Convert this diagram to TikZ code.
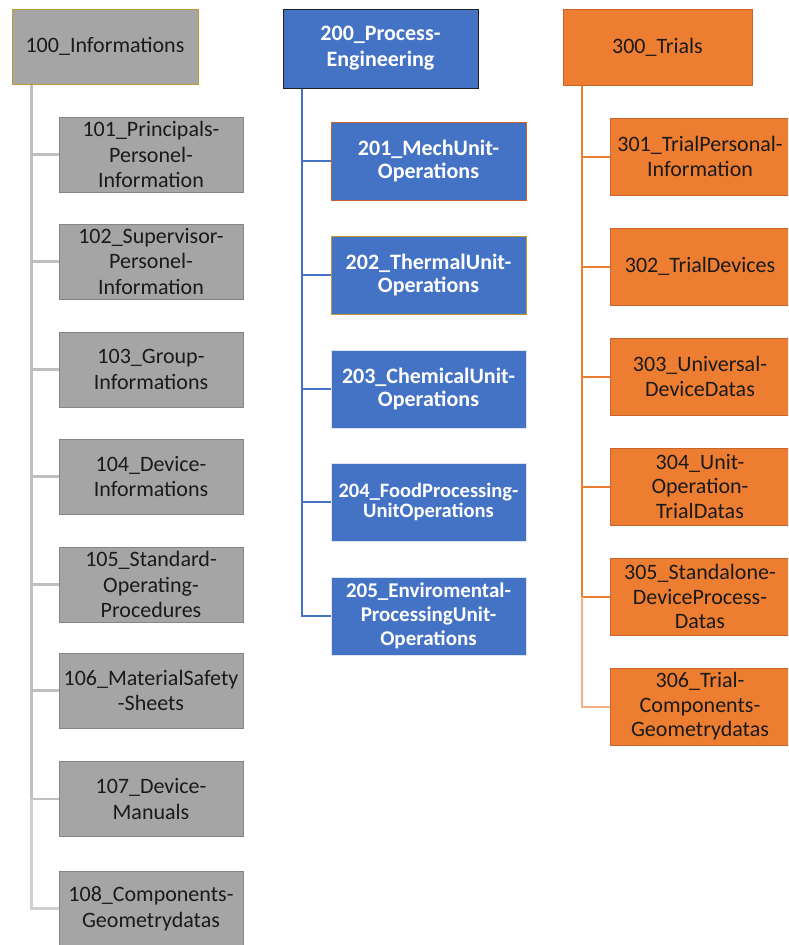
\documentclass[tikz,border=0pt]{standalone}
\usepackage{fontspec}
\setmainfont{Carlito}
\definecolor{grayfill}{HTML}{A5A5A5}
\definecolor{grayedge}{HTML}{858585}
\definecolor{grayline}{HTML}{BFBFBF}
\definecolor{graylight}{HTML}{CFCFCF}
\definecolor{gold}{HTML}{C09A2E}
\definecolor{bluefill}{HTML}{4472C4}
\definecolor{blueline}{HTML}{4472C4}
\definecolor{blueedge}{HTML}{DCE4F2}
\definecolor{darkedge}{HTML}{202020}
\definecolor{orangefill}{HTML}{ED7D31}
\definecolor{orangeedge}{HTML}{C9632A}
\definecolor{orangeline}{HTML}{ED7D31}
\definecolor{orangelight}{HTML}{F4B183}
\definecolor{txt}{HTML}{1A1A1A}
\tikzset{
  base/.style={rectangle, inner sep=0pt, align=center, line width=1pt},
  graybox/.style={base, fill=grayfill, draw=grayedge, minimum width=184pt, minimum height=75pt, text=txt, font=\fontsize{22}{25.5}\selectfont},
  bluebox/.style={base, fill=bluefill, draw=blueedge, minimum width=195pt, minimum height=78pt, text=white, font=\fontsize{22}{23.5}\selectfont\bfseries},
  orangebox/.style={base, fill=orangefill, draw=orangeedge, minimum width=180pt, minimum height=77pt, text=txt, font=\fontsize{22}{24.5}\selectfont},
  grayconn/.style={draw=grayline, line width=2.2pt},
  blueconn/.style={draw=blueline, line width=2pt},
  orangeconn/.style={draw=orangeline, line width=2pt},
}
\begin{document}
\begin{tikzpicture}[x=1pt,y=-1pt]
\useasboundingbox (0,0) rectangle (788,945);
\begin{scope}
\clip (0,0) rectangle (788,945);
% ---------- column 1 ----------
\node[graybox, draw=gold, minimum width=186pt, minimum height=75pt] (h100) at (105,46.5) {100\_Informations};
\coordinate (t100) at ([xshift=20pt]h100.south west);
\node[graybox] (c101) at (151,154.5) {101\_Principals-\\Personel-\\Information};
\node[graybox] (c102) at (151,261.5) {102\_Supervisor-\\Personel-\\Information};
\node[graybox] (c103) at (151,369.5) {103\_Group-\\Informations};
\node[graybox] (c104) at (151,476.5) {104\_Device-\\Informations};
\node[graybox] (c105) at (151,584.5) {105\_Standard-\\Operating-\\Procedures};
\node[graybox] (c106) at (151,690.5) {106\_MaterialSafety\\-Sheets};
\node[graybox] (c107) at (151,799) {107\_Device-\\Manuals};
\node[graybox] (c108) at (151,908.5) {108\_Components-\\Geometrydatas};
% ---------- column 2 ----------
\node[bluebox, draw=darkedge, minimum height=79pt, font=\fontsize{22}{26}\selectfont\bfseries] (h200) at (380.5,48.5) {200\_Process-\\Engineering};
\coordinate (t200) at ([xshift=19pt]h200.south west);
\node[bluebox, draw=orangeedge] (c201) at (428.5,161) {201\_MechUnit-\\Operations};
\node[bluebox, draw=gold] (c202) at (428.5,275) {202\_ThermalUnit-\\Operations};
\node[bluebox] (c203) at (428.5,389) {203\_ChemicalUnit-\\Operations};
\node[bluebox, font=\fontsize{20.5}{20.5}\selectfont\bfseries] (c204) at (428.5,502) {204\_FoodProcessing-\\UnitOperations};
\node[bluebox, font=\fontsize{21}{24}\selectfont\bfseries] (c205) at (428.5,616) {205\_Enviromental-\\ProcessingUnit-\\Operations};
% ---------- column 3 ----------
\node[orangebox, minimum width=189pt, minimum height=76pt] (h300) at (657.5,47) {300\_Trials};
\coordinate (t300) at ([xshift=19pt]h300.south west);
\node[orangebox] (c301) at (700,156.5) {301\_TrialPersonal-\\Information};
\node[orangebox] (c302) at (700,266.5) {302\_TrialDevices};
\node[orangebox] (c303) at (700,376.5) {303\_Universal-\\DeviceDatas};
\node[orangebox] (c304) at (700,486.5) {304\_Unit-\\Operation-\\TrialDatas};
\node[orangebox] (c305) at (700,596.5) {305\_Standalone-\\DeviceProcess-\\Datas};
\node[orangebox] (c306) at (700,706.5) {306\_Trial-\\Components-\\Geometrydatas};
\end{scope}
% ---------- connectors ----------
\foreach \c in {c101,c102,c103,c104,c105,c106,c107}
  \draw[grayconn] (t100) |- (\c.west);
\draw[grayconn, draw=graylight] (c107.west -| t100) |- (c108.west);
\foreach \c in {c201,c202,c203,c204,c205}
  \draw[blueconn] (t200) |- (\c.west);
\foreach \c in {c301,c302,c303,c304,c305}
  \draw[orangeconn] (t300) |- (\c.west);
\draw[orangeconn, draw=orangelight] (c305.west -| t300) |- (c306.west);
\end{tikzpicture}
\end{document}
